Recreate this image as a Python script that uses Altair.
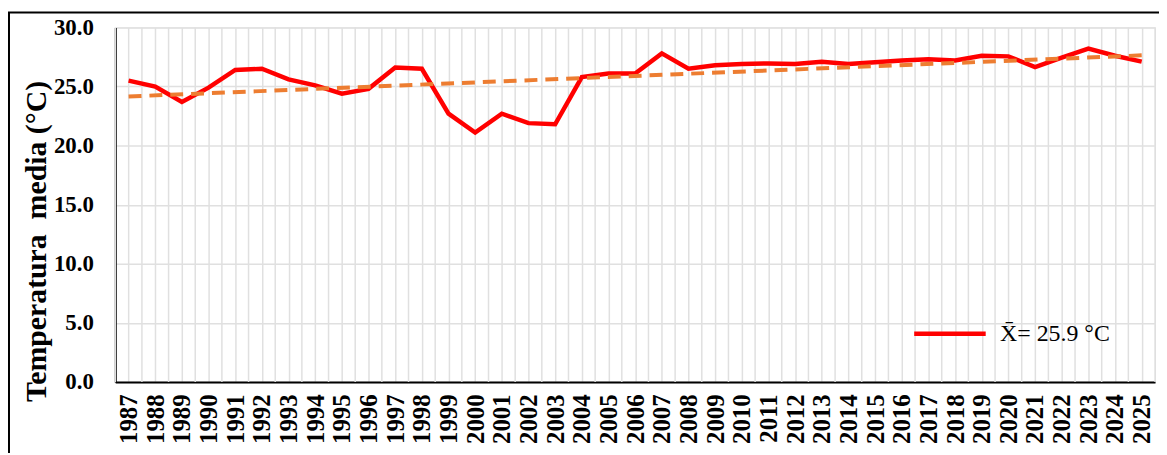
import altair as alt
import pandas as pd

years = list(range(1987, 2026))
temps = [25.5, 25.0, 23.7, 24.9, 26.4, 26.5, 25.6, 25.1, 24.4, 24.8,
         26.6, 26.5, 22.7, 21.1, 22.7, 21.9, 21.8, 25.8, 26.1, 26.1,
         27.8, 26.5, 26.8, 26.9, 26.95, 26.9, 27.1, 26.9, 27.05, 27.2,
         27.3, 27.2, 27.6, 27.55, 26.65, 27.45, 28.2, 27.6, 27.1]
legend_label = "X\u0304= 25.9 °C"
y_ticks = [0, 5, 10, 15, 20, 25, 30]
boundaries = [y - 0.5 for y in years] + [years[-1] + 0.5]

df = pd.DataFrame({"year": years, "temp": temps, "serie": [legend_label] * len(years)})
df_b = pd.DataFrame({"b": boundaries})

W, H = 1047, 357
PAD = {"left": 108, "top": 18, "right": 4, "bottom": 70}

serif = "Liberation Serif"
GRID = "#e0e0e0"

x_scale = alt.Scale(domain=[1986.5, 2025.5], nice=False, zero=False)
y_scale = alt.Scale(domain=[0, 30], nice=False)

x_axis = alt.Axis(
    values=years, tickCount=500, format="d",
    labelAngle=-90, labelAlign="right", labelBaseline="middle",
    labelFont=serif, labelFontSize=25, labelFontWeight="bold", labelColor="black",
    labelPadding=12, labelOverlap=False, labelBound=False, labelFlush=False,
    ticks=False, domain=True, domainColor="black", domainWidth=2,
    grid=True, gridColor=GRID, gridWidth=1.5, title=None,
)
y_axis = alt.Axis(
    values=y_ticks, tickCount=500, format=".1f",
    labelFont=serif, labelFontSize=23, labelFontWeight="bold", labelColor="black",
    labelPadding=22, ticks=False, domain=True, domainColor="black", domainWidth=2,
    grid=True, gridColor=GRID, gridWidth=1.5,
    title="Temperatura\u00a0\u00a0media (°C)", titleFont=serif, titleFontSize=30,
    titleFontWeight="bold", titleColor="black", titleAngle=-90,
    titleAlign="center", titleBaseline="bottom", titleX=-64, titleY=215,
)

base = alt.Chart(df)

bgrid = alt.Chart(df_b).mark_rule(color=GRID, strokeWidth=1.5).encode(
    x=alt.X("b:Q", scale=x_scale, axis=x_axis),
)

line = base.mark_line(strokeWidth=4.5, strokeJoin="miter").encode(
    x=alt.X("year:Q", scale=x_scale, axis=x_axis),
    y=alt.Y("temp:Q", scale=y_scale, axis=y_axis),
    color=alt.Color(
        "serie:N",
        scale=alt.Scale(domain=[legend_label], range=["#ff0000"]),
        legend=alt.Legend(
            title=None, orient="none", legendX=802, legendY=270,
            symbolType="stroke", symbolSize=5184, symbolStrokeWidth=4.5,
            labelFont=serif, labelFontSize=24, labelColor="black",
            labelLimit=0, labelOffset=12, padding=0,
        ),
    ),
)

trend = base.transform_regression(
    "year", "temp", method="linear", extent=[1987, 2025]
).mark_line(color="#ed7d31", strokeWidth=4, strokeDash=[13, 8]).encode(
    x=alt.X("year:Q", scale=x_scale, axis=x_axis),
    y=alt.Y("temp:Q", scale=y_scale, axis=y_axis),
)

frame = alt.Chart(pd.DataFrame({"k": [0]})).mark_rect(
    fill=None, stroke="black", strokeWidth=2
).encode(
    x=alt.value(-PAD["left"] + 1),
    x2=alt.value(W + 40),
    y=alt.value(-PAD["top"] + 3),
    y2=alt.value(H + 200),
)

chart = alt.layer(bgrid, line, trend, frame).properties(
    width=W, height=H,
    autosize=alt.AutoSizeParams(type="none"),
    padding=PAD,
).configure_view(
    fill="#f1f1f1", stroke=GRID, strokeWidth=1.5
).configure(background="white")

chart.save("out.html", embed_options={"renderer": "svg", "actions": False})
